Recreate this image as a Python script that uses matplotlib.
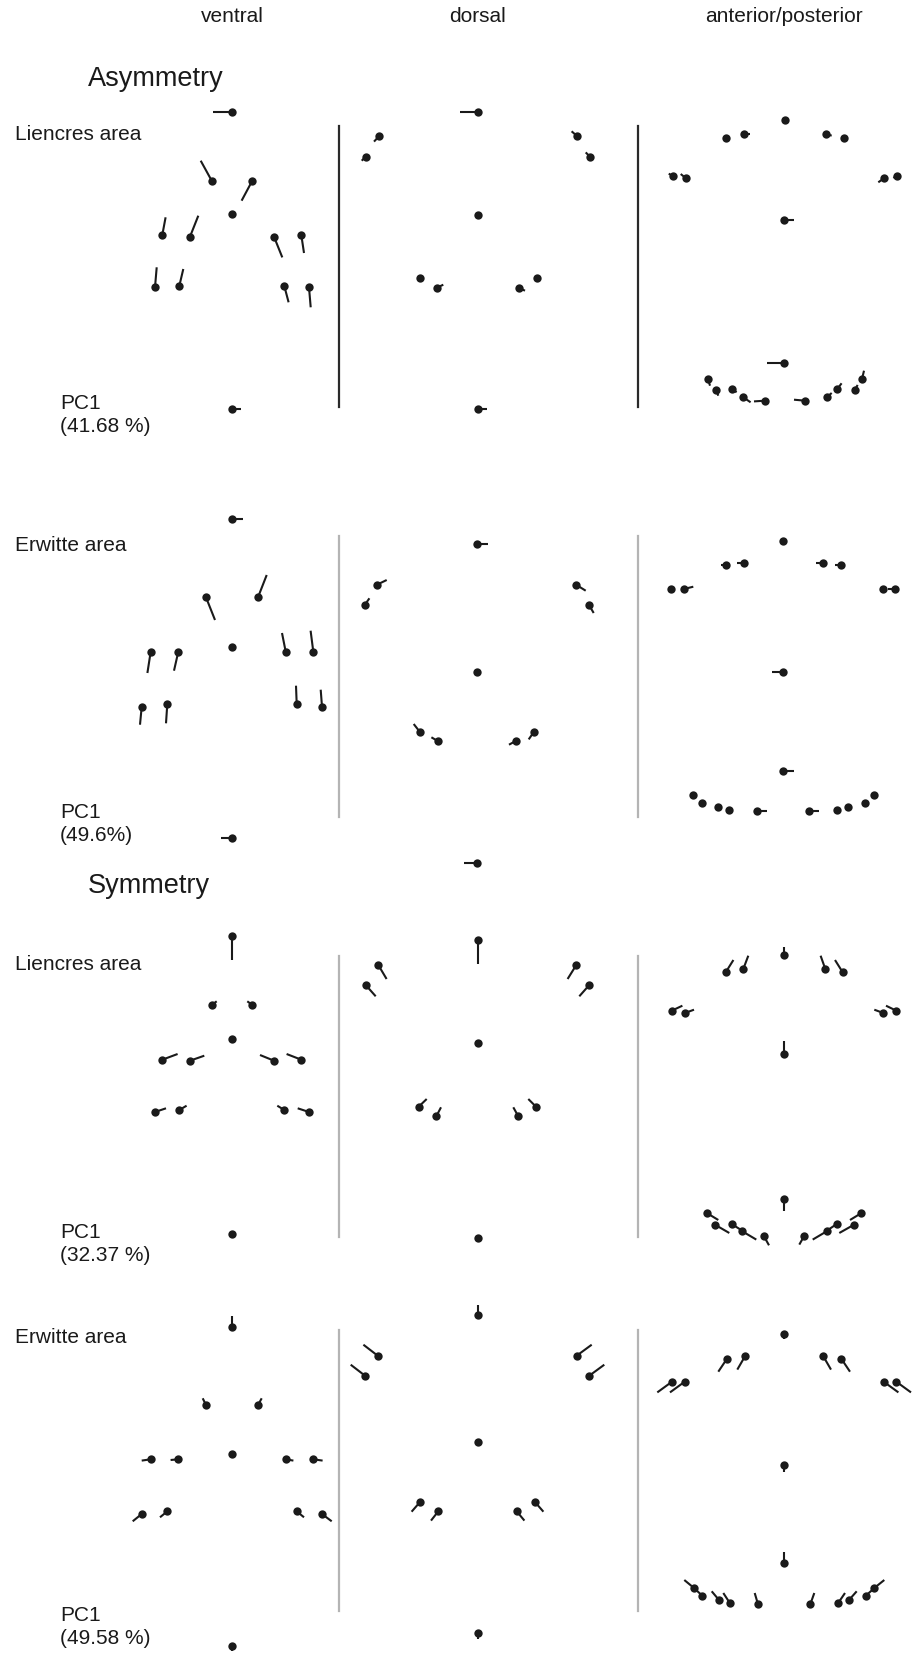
import matplotlib
matplotlib.use("Agg")
import matplotlib.pyplot as plt

plt.rcParams['font.family'] = ['Liberation Sans', 'DejaVu Sans']

# landmark position (x, y) and displacement vector (dx, dy), image pixels
asym_lie_ventral = [(231.7, 112.7, -18.3, 0), (211.7, 181.7, -11, -20), (252.3, 181.7, -10.7, 20),
                    (231.7, 215, 0, 0), (162.3, 236, 3.3, -17.7), (190, 237.7, 8.3, -21),
                    (274, 237.7, 8.3, 20.7), (301.3, 236, 2.7, 18), (155, 288.3, 1.7, -20),
                    (179.3, 287, 4, -17), (284.3, 287, 4.3, 16.3), (309, 288.3, 1.7, 20),
                    (231.7, 410, 9.3, 0)]
asym_lie_dorsal = [(478.3, 112.7, -18.3, 0), (379, 137.3, -5, 5.3), (365.7, 157.7, -4, 4),
                   (577.3, 137.3, -5.7, -5), (590, 157.7, -4.3, -4.3), (478.3, 215.7, 0, 0),
                   (419.7, 279, 3, 1), (437, 288.7, 6.3, -3), (518.7, 288.7, 6.3, 3),
                   (536.7, 279, 0, 0), (478.3, 410, 8.3, 0)]
asym_lie_antpost = [(785, 121, 0, 0), (726.3, 139, 0, 0), (744, 135.3, 6, 0),
                    (825.7, 135.3, 6, 1.3), (843.7, 139, 0, 0), (672.7, 176.7, -4, -2),
                    (686, 179.3, -5.3, -4.3), (884, 179.3, -5.7, 4), (896.7, 176.7, -3.3, 2.3),
                    (784.3, 220.7, 9.7, 0), (784.3, 364.3, -17.7, 0),
                    (708, 380, 2, 6.7), (716, 390.7, 2.3, 6), (732.3, 390, 4.3, 3.3),
                    (743.3, 398.3, 7.3, 5), (764.7, 401.7, -10.7, 0.7), (805.3, 401.7, -11.3, -1),
                    (826.7, 398.3, 5, -4.3), (837.3, 390, 4.3, -5.7), (854.7, 390.7, 3, -4.7),
                    (862, 380, 2, -8.3)]

asym_erw_ventral = [(231.7, 520.3, 11, 0), (206, 598.3, 9, 22.7), (258, 598.3, 8.7, -22.3),
                    (232, 648.3, 0, 0), (150.7, 652.7, -3.3, 21.3), (178.3, 652.7, -4.3, 19),
                    (285.7, 652.7, -3.7, -18.7), (313.3, 652.7, -2.7, -21), (141.7, 707.7, -1.7, 18),
                    (167.3, 705, -1.3, 19.3), (296.7, 705, -0.7, -18.3), (322, 707.7, -1.3, -17),
                    (232, 839, -11.3, 0)]
asym_erw_dorsal = [(476.7, 545.3, 11, 0), (377, 585.7, 9.7, -4.7), (364.7, 606, 4.7, -6.7),
                   (576, 585.7, 9.7, 6), (589, 606, 4.7, 8), (476.7, 673, 0, 0),
                   (419.7, 732.7, -6, -7.7), (437.7, 742, -6.3, -3.7), (515.7, 742, -6.7, 3.7),
                   (534, 732.7, -5.3, 7.7), (476.7, 864, -12.5, 0)]
asym_erw_antpost = [(783.3, 542.3, 0, 0), (726.3, 566.3, -5.7, 0), (744.3, 564.3, -7, 0),
                    (822.7, 564.3, -7, 0), (840.7, 566.3, -5.7, 0), (671.3, 590, 0, 0),
                    (684, 590, 9.3, -2.3), (882.7, 590, 0, 0), (895.3, 590, -7, 0),
                    (783.3, 673, -11, 0), (783.3, 771.7, 11, 0),
                    (693.3, 796.3, 0, 0), (701.7, 803.7, 0, 0), (718.3, 808, 0, 0),
                    (729.3, 811, 0, 0), (757, 811.7, 9.7, 0), (809.3, 811.7, 10, 0),
                    (837.3, 811, 0, 0), (848.3, 808, 0, 0), (865, 803.7, 0, 0),
                    (873.7, 796.3, 0, 0)]

sym_lie_ventral = [(232, 937.3, 0, 23.3), (211.7, 1006, 5, -3.7), (252.3, 1006, -5, -3.7),
                   (232, 1040, 0, 0), (162.3, 1060.7, 15.3, -5.7), (190, 1061.7, 14.3, -5),
                   (274, 1061.7, -14, -5.7), (301.3, 1060.7, -14.7, -5.7), (155, 1113, 11, -3.7),
                   (179.3, 1111, 7.3, -4.3), (284.3, 1111, -7, -4.3), (309, 1113, -11.3, -3.7),
                   (232, 1235, 0, 0)]
sym_lie_dorsal = [(477.7, 941, 0, 24), (378.3, 966, 8.3, 14), (365.7, 986, 10, 11.3),
                  (576.3, 966, -8.7, 14), (589.3, 986, -10, 11.3), (477.7, 1044, 0, 0),
                  (418.7, 1107.7, 8, -7.7), (436.3, 1117.3, 4.7, -9), (518.3, 1117.3, -5, -9),
                  (536, 1107.7, -7.7, -7.7), (477.7, 1239, 0, 0)]
sym_lie_antpost = [(784, 955.7, 0, -7.3), (725.7, 973.3, 7.7, -12.3), (743.3, 970, 5, -13.3),
                   (825.3, 970, -4.7, -13.3), (842.7, 973.3, -7.7, -12.3), (671.7, 1011.7, 10.7, -5),
                   (685, 1014, 9, -3.3), (883.3, 1014, -9, -3.3), (896.3, 1011.7, -10.3, -5),
                   (784, 1055, 0, -12.7), (784, 1199.7, 0, 12.7),
                   (707.3, 1214.3, 11, 6.7), (715, 1225.7, 14.3, 8.3), (731.7, 1225, 11, 7),
                   (742.3, 1232.3, 14, 8.3), (764, 1237.3, 5, 9), (804, 1237.3, -4.7, 8.3),
                   (826.7, 1232.3, -14, 8.3), (836.7, 1225, -10.7, 7.3), (854, 1225.7, -14.7, 8.3),
                   (861, 1214.3, -11, 6.7)]

sym_erw_ventral = [(232, 1327.7, 0, -10.3), (206, 1406, -3.3, -6.7), (258, 1406, 3.7, -6.7),
                   (232, 1455.3, 0, 0), (150.7, 1460.3, -9, 1.3), (178.3, 1460.3, -7.7, 0.7),
                   (285.7, 1460.3, 7.7, 1.3), (313.3, 1460.3, 9.3, 1.3), (141.7, 1515, -9, 7.3),
                   (167.3, 1512.3, -7.3, 6), (296.7, 1512.3, 7.3, 6), (322, 1515, 9.7, 7.3),
                   (232, 1646.7, 0, 5.7)]
sym_erw_dorsal = [(477.7, 1316, 0, -10.3), (377.7, 1356.7, -14.3, -11), (365, 1376.7, -14.3, -11),
                  (576.7, 1356.7, 15, -11), (589.3, 1376.7, 15, -11), (477.7, 1443.3, 0, 2),
                  (420.3, 1502.7, -8.7, 10), (438.3, 1512.3, -7.3, 9.3), (516.7, 1512.3, 7.7, 9.3),
                  (534.7, 1502.7, 8.7, 10), (477.7, 1634.3, 0, 5.7)]
sym_erw_antpost = [(784, 1335.3, 0, 4.7), (727, 1359.7, -8.7, 13), (745, 1357.3, -7.7, 13.3),
                   (823.3, 1357.3, 7.7, 13.3), (841.3, 1359.7, 8.7, 13), (672, 1382.7, -14.7, 10.7),
                   (684.7, 1382.7, -14.7, 10.7), (883.7, 1382.7, 14.7, 10.7), (896.3, 1382.7, 14.7, 10.7),
                   (784, 1466, 0, 6.7), (784, 1564.3, 0, -11.7),
                   (694, 1589, -9.7, -8), (702.3, 1596.7, -7.3, -6.7), (719, 1601, -7.3, -8.7),
                   (730, 1604.3, -6.7, -10.3), (758, 1605.3, -3.3, -11.3), (810.3, 1605.3, 4, -11.3),
                   (838, 1604.3, 7, -10.3), (849, 1601, 7.7, -8.7), (865.7, 1596.7, 7.7, -6.7),
                   (874.3, 1589, 10, -8)]

panels = [asym_lie_ventral, asym_lie_dorsal, asym_lie_antpost,
          asym_erw_ventral, asym_erw_dorsal, asym_erw_antpost,
          sym_lie_ventral, sym_lie_dorsal, sym_lie_antpost,
          sym_erw_ventral, sym_erw_dorsal, sym_erw_antpost]

column_titles = ['ventral', 'dorsal', 'anterior/posterior']
column_x = [232, 477.5, 784]
block_titles = ['Asymmetry', 'Symmetry']
block_y = [79, 886]
area_labels = ['Liencres area', 'Erwitte area', 'Liencres area', 'Erwitte area']
area_y = [135, 546, 965, 1338]
pc_labels = ['PC1\n(41.68 %)', 'PC1\n(49.6%)', 'PC1\n(32.37 %)', 'PC1\n(49.58 %)']
pc_y = [415, 824, 1244, 1627]
# vertical separators per row: top, bottom, colour
sep_x = [339.2, 638.3]
sep_rows = [(126.7, 408.3, '#2a2a2a'), (537.3, 818.3, '#b4b4b4'),
            (957.3, 1238.3, '#b4b4b4'), (1330.7, 1611.7, '#b4b4b4')]

fig = plt.figure(figsize=(9.17, 16.56), dpi=100)
ax = fig.add_axes([0, 0, 1, 1])
ax.set_xlim(0, 917)
ax.set_ylim(1656, 0)
ax.axis('off')

for p in panels:
    for x, y, dx, dy in p:
        if dx != 0 or dy != 0:
            ax.plot([x, x + dx], [y, y + dy], color='#1a1a1a', lw=1.5,
                    solid_capstyle='butt', zorder=2)
    ax.plot([q[0] for q in p], [q[1] for q in p], 'o', color='#1a1a1a',
            ms=6, mec='none', zorder=3)

for top, bot, col in sep_rows:
    for sx in sep_x:
        ax.plot([sx, sx], [top, bot], color=col, lw=1.6, zorder=1)

for t, x in zip(column_titles, column_x):
    ax.text(x, 16, t, ha='center', va='center', fontsize=15, color='#1a1a1a')
for t, y in zip(block_titles, block_y):
    ax.text(88, y, t, ha='left', va='center', fontsize=19.5, color='#1a1a1a')
for t, y in zip(area_labels, area_y):
    ax.text(15, y, t, ha='left', va='center', fontsize=15, color='#1a1a1a')
for t, y in zip(pc_labels, pc_y):
    ax.text(60, y, t, ha='left', va='center', fontsize=15, color='#1a1a1a',
            linespacing=1.3)

fig.savefig('out.png', dpi=100)
